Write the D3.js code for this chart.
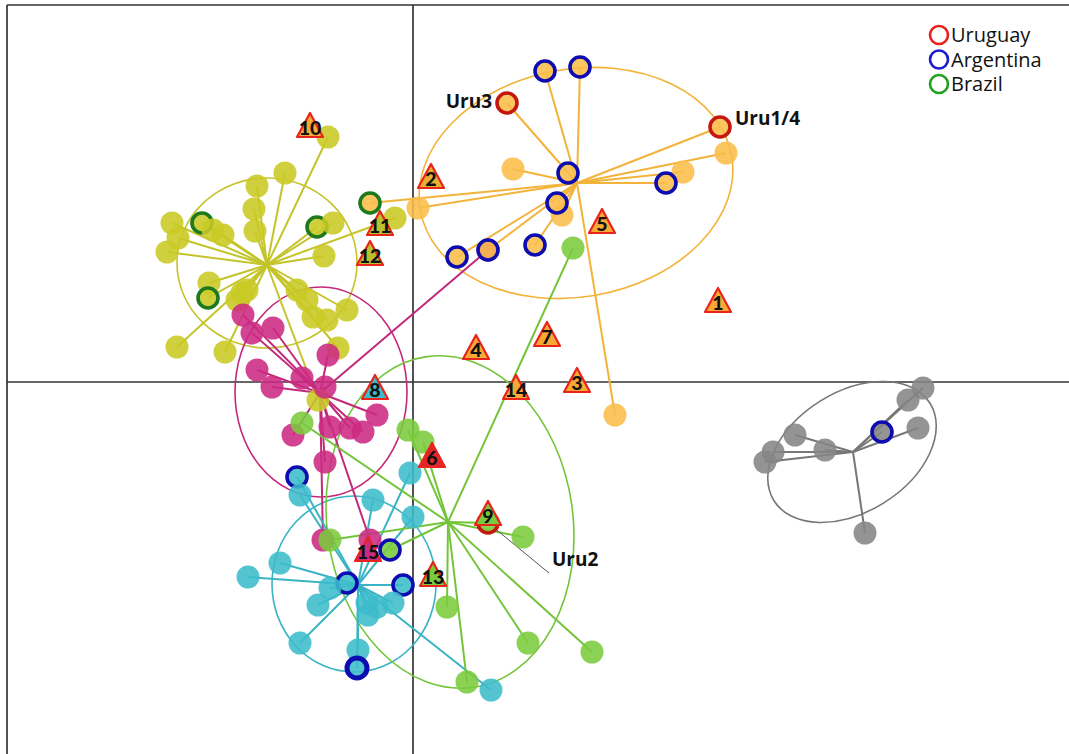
<!DOCTYPE html>
<html><head><meta charset="utf-8">
<script src="https://cdn.jsdelivr.net/npm/d3@7"></script>
<style>body{margin:0;background:#fff}svg{display:block}</style>
</head><body>
<script>
// ---- data (discriminant function units) ----
const clusterNames = ["yellow","magenta","cyan","green","orange","gray"];
const clusterColors = ["#c9c924","#cc2a82","#3cbccb","#7acb3c","#fbbd4a","#858585"];
const lineColors    = ["#c4c42a","#c2297a","#3ab4c4","#74c43a","#f3b33a","#777777"];
const centroidX = [-1.46,-0.93,-0.55, 0.35, 1.64, 4.40];
const centroidY = [ 1.17,-0.11,-2.03,-1.40, 1.99,-0.70];
// ellipses: cx, cy, rx, ry, angle(deg)
const ellipseCX = [-1.46,-0.92,-0.59, 0.37, 1.63, 4.39];
const ellipseCY = [ 1.19,-0.10,-2.02,-1.40, 1.99,-0.70];
const ellipseRX = [ 0.90, 0.86, 0.82, 1.23, 1.58, 0.92];
const ellipseRY = [ 0.85, 1.05, 0.88, 1.67, 1.14, 0.60];
const ellipseAngle = [0, 0, 0, -8, -10, -32];

// points: [x, y, origin ring ("", "UY", "AR", "BR")]
const yellowPts = [
 [-1.28,2.09,""],[-1.56,1.96,""],[-1.59,1.73,""],[-1.58,1.51,""],[-2.41,1.59,""],
 [-2.11,1.59,"BR"],[-2.35,1.44,""],[-2.46,1.30,""],[-1.90,1.47,""],[-2.00,1.52,""],
 [-0.96,1.55,"BR"],[-0.80,1.59,""],[-0.89,1.26,""],[-2.04,0.99,""],[-2.05,0.84,"BR"],
 [-1.71,0.89,""],[-1.66,0.92,""],[-1.76,0.82,""],[-1.16,0.92,""],[-1.06,0.82,""],
 [-1.00,0.65,""],[-0.86,0.62,""],[-0.66,0.72,""],[-2.36,0.35,""],[-1.88,0.30,""],
 [-0.75,0.34,""],[-0.85,2.45,""],[-0.18,1.64,""],[-0.95,-0.18,""]
];
const magentaPts = [
 [-1.70,0.67,""],[-1.40,0.54,""],[-1.61,0.49,""],[-1.56,0.12,""],[-1.41,-0.05,""],
 [-1.11,0.04,""],[-0.85,0.27,""],[-0.36,-0.33,""],[-0.83,-0.45,""],[-0.63,-0.46,""],
 [-0.50,-0.50,""],[-1.20,-0.53,""],[-0.88,-0.80,""],[-0.88,-0.05,""],[0.75,1.32,""],
 [-0.90,-1.58,""],[-0.43,-1.58,""]
];
const cyanPts = [
 [-1.16,-0.95,"AR"],[-1.13,-1.13,""],[-0.40,-1.18,""],[-0.03,-0.91,""],[0.00,-1.35,""],
 [-1.33,-1.81,""],[-1.65,-1.95,""],[-0.66,-2.01,"AR"],[-0.10,-2.03,"AR"],[-0.95,-2.23,""],
 [-0.83,-2.06,""],[-0.46,-2.21,""],[-0.36,-2.25,""],[-0.20,-2.21,""],[-0.45,-2.33,""],
 [-1.13,-2.61,""],[-0.55,-2.68,""],[-0.56,-2.86,"AR2"],[0.78,-3.08,""]
];
const greenPts = [
 [1.60,1.34,""],[-0.05,-0.48,""],[0.10,-0.60,""],[1.10,-1.55,""],[0.34,-2.25,""],
 [1.15,-2.61,""],[1.79,-2.70,""],[0.54,-3.00,""],[0.75,-1.41,"UY"],[-1.11,-0.41,""],
 [-0.83,-1.58,""],[-0.23,-1.68,"AR"]
];
const orangePts = [
 [1.32,3.11,"AR"],[1.67,3.15,"AR"],[0.94,2.79,"UY"],[3.07,2.55,"UY"],[3.13,2.29,""],
 [2.70,2.10,""],[2.53,1.99,"AR"],[1.00,2.13,""],[1.55,2.09,"AR"],[1.49,1.67,""],
 [1.44,1.79,"AR"],[1.22,1.37,"AR"],[0.75,1.32,"AR"],[0.44,1.25,"AR"],[0.05,1.74,""],
 [2.02,-0.33,""],[-0.43,1.79,"BR"]
];
const grayPts = [
 [5.10,-0.06,""],[4.95,-0.18,""],[4.69,-0.50,"AR"],[5.05,-0.46,""],[3.82,-0.53,""],
 [4.12,-0.68,""],[3.60,-0.70,""],[3.52,-0.80,""],[4.52,-1.51,""]
];
const clusterPoints = [yellowPts, magentaPts, cyanPts, greenPts, orangePts, grayPts];

// numbered triangles
const triLabels = ["1","2","3","4","5","6","7","8","9","10","11","12","13","14","15"];
const triX = [3.05,0.18,1.64,0.63,1.89,0.19,1.34,-0.38,0.75,-1.03,-0.33,-0.43,0.20,1.03,-0.45];
const triY = [0.79,2.03,-0.01,0.32,1.58,-0.76,0.45,-0.08,-1.34,2.54,1.56,1.26,-1.95,-0.08,-1.70];
const triFill = ["#f7a835","#e8b030","#f7a835","#f7a835","#f7a835","#e4262c","#f7a835","#3cbccb",
                 "#7acb3c","#f7a835","#b8c02a","#b8c02a","#7acb3c","#f7a835","#cc2a82"];

// annotations
const annoText = ["Uru3","Uru1/4","Uru2"];
const annoX = [0.79, 3.22, 1.39];
const annoY = [2.74, 2.57, -1.84];
const annoAnchor = ["end","start","start"];

const legendLabels = ["Uruguay","Argentina","Brazil"];
const ringColors = {UY:"#c4180e", AR:"#0c0cb0", AR2:"#0c0cb0", BR:"#1c7a1c"};
const legendColors = ["#e8201e","#1a1ad0","#1fa01f"];

// ---- drawing ----
const W=1069, H=754;
const x = d3.scaleLinear().domain([-4.06,6.56]).range([7,1069]);
const y = d3.scaleLinear().domain([-3.72,3.77]).range([754,5]);
const k = x(1)-x(0);

const svg = d3.select("body").append("svg").attr("width",W).attr("height",H);

// frame + axes
const frame = svg.append("g").attr("stroke","#333").attr("stroke-width",1.7);
frame.append("line").attr("x1",x.range()[0]).attr("x2",x.range()[1]).attr("y1",y.range()[1]).attr("y2",y.range()[1]);
frame.append("line").attr("x1",x.range()[0]).attr("x2",x.range()[0]).attr("y1",y.range()[1]).attr("y2",y.range()[0]);
frame.append("line").attr("x1",x(0)).attr("x2",x(0)).attr("y1",y.range()[1]).attr("y2",y.range()[0]);
frame.append("line").attr("x1",x.range()[0]).attr("x2",x.range()[1]).attr("y1",y(0)).attr("y2",y(0));

// ellipses
const eg = svg.append("g").attr("fill","none").attr("stroke-width",1.6);
clusterNames.forEach((c,i)=>{
  eg.append("ellipse")
    .attr("transform",`translate(${x(ellipseCX[i])},${y(ellipseCY[i])}) rotate(${ellipseAngle[i]})`)
    .attr("rx",ellipseRX[i]*k).attr("ry",ellipseRY[i]*k)
    .attr("stroke",lineColors[i]);
});

// star lines
const lg = svg.append("g").attr("stroke-width",2);
clusterNames.forEach((c,i)=>{
  lg.selectAll(null).data(clusterPoints[i]).join("line")
    .attr("x1",x(centroidX[i])).attr("y1",y(centroidY[i]))
    .attr("x2",d=>x(d[0])).attr("y2",d=>y(d[1]))
    .attr("stroke",lineColors[i]);
});

// Uru2 pointer line
svg.append("line").attr("x1",x(0.80)).attr("y1",y(-1.45)).attr("x2",x(1.36)).attr("y2",y(-1.91))
  .attr("stroke","#555").attr("stroke-width",1);

// points
const pg = svg.append("g");
clusterNames.forEach((c,i)=>{
  pg.selectAll(null).data(clusterPoints[i]).join("circle")
    .attr("cx",d=>x(d[0])).attr("cy",d=>y(d[1]))
    .attr("fill",clusterColors[i]).attr("fill-opacity",0.88)
    .attr("stroke",d=>d[2]?ringColors[d[2]]:"none")
    .attr("stroke-width",d=>d[2]==="AR2"?5:3.6)
    .attr("r",d=>d[2]?10:11.5);
});

// triangles
const tg = svg.append("g");
const tri = d3.range(triLabels.length);
tg.selectAll("path").data(tri).join("path")
  .attr("d",i=>{const cx=x(triX[i]), cy=y(triY[i]); return `M${cx},${cy-15}L${cx+13},${cy+9}L${cx-13},${cy+9}Z`;})
  .attr("fill",i=>triFill[i]).attr("stroke","#e8241c").attr("stroke-width",2.2).attr("stroke-linejoin","round");
tg.selectAll("text").data(tri).join("text")
  .attr("x",i=>x(triX[i])).attr("y",i=>y(triY[i])+7)
  .attr("text-anchor","middle").attr("font-family","Lato, 'Open Sans', sans-serif")
  .attr("font-weight",900).attr("font-size",19.5).attr("fill","#111")
  .text(i=>triLabels[i]);

// annotations
svg.selectAll(".anno").data(annoText).join("text")
  .attr("x",(d,i)=>x(annoX[i])).attr("y",(d,i)=>y(annoY[i]))
  .attr("text-anchor",(d,i)=>annoAnchor[i])
  .attr("font-family","'Open Sans', sans-serif").attr("font-weight",700).attr("font-size",19)
  .attr("fill","#111").text(d=>d);

// legend
const leg = svg.append("g");
legendLabels.forEach((l,i)=>{
  leg.append("circle").attr("cx",939).attr("cy",35+i*24.5).attr("r",9)
    .attr("fill","none").attr("stroke",legendColors[i]).attr("stroke-width",2.6);
  leg.append("text").attr("x",951).attr("y",42+i*24.5)
    .attr("font-family","'Open Sans', sans-serif").attr("font-size",20).attr("fill","#111").text(l);
});
</script>
</body></html>
